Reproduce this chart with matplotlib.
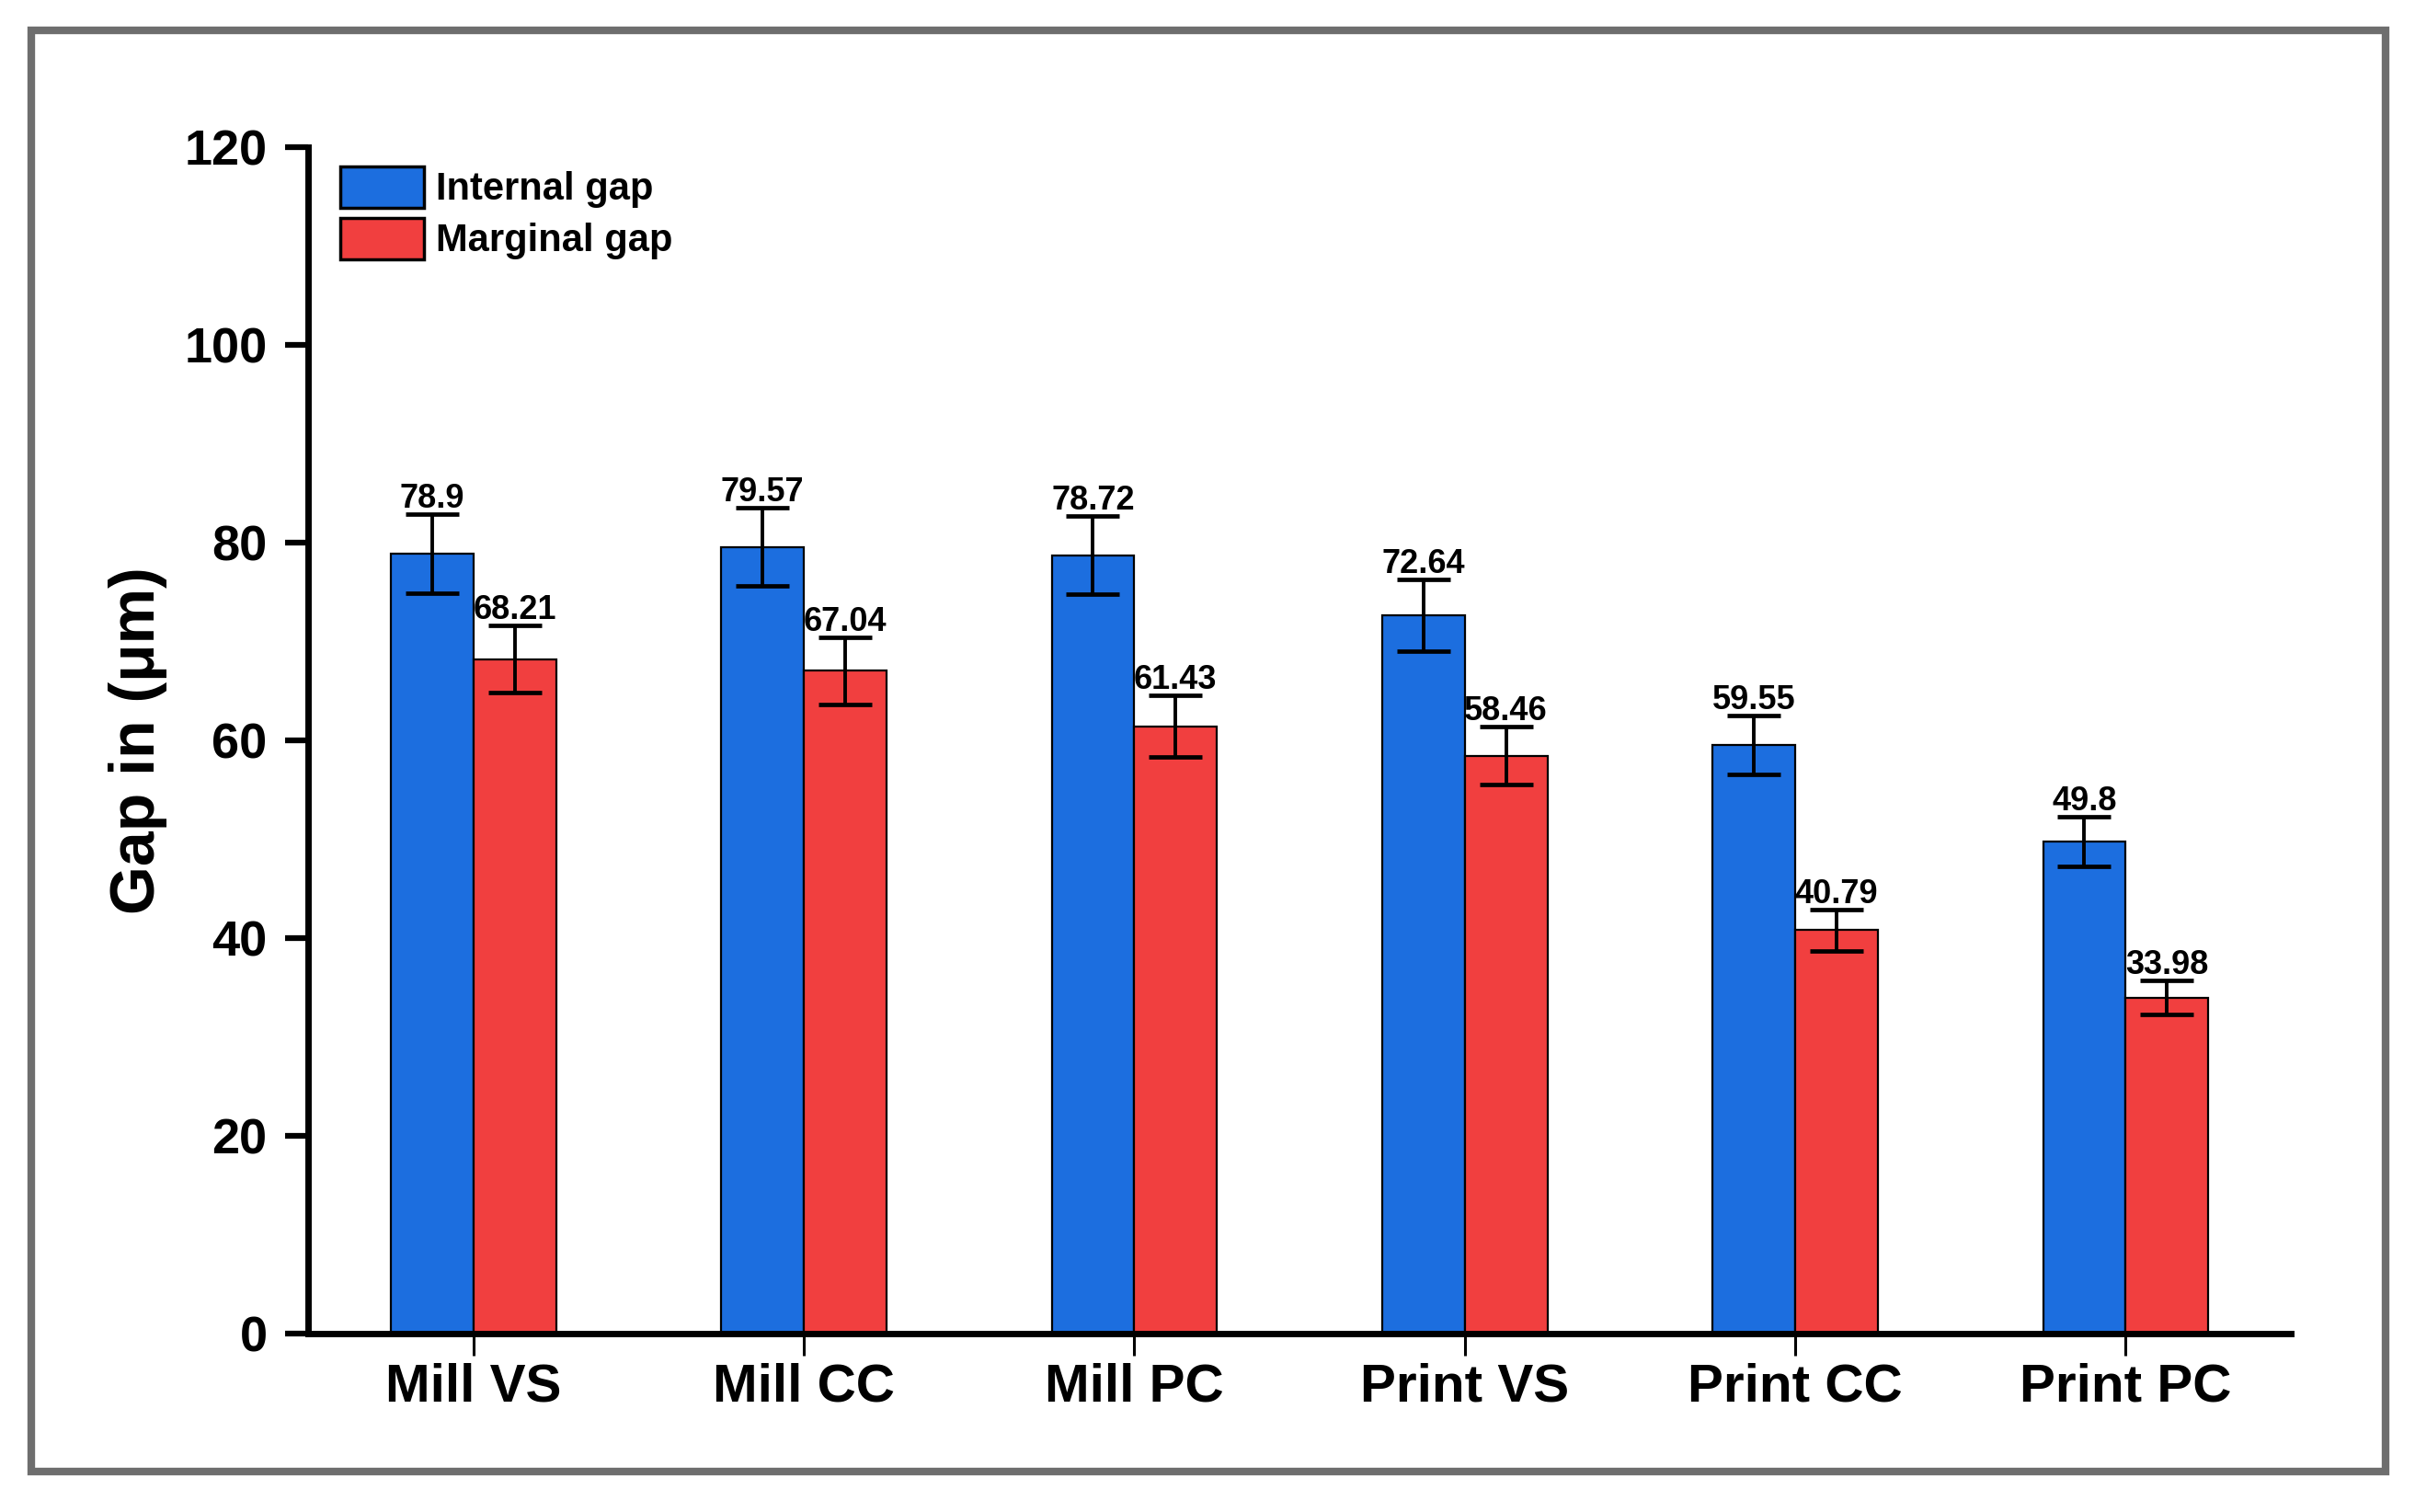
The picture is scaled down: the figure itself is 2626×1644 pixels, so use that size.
import matplotlib.pyplot as plt
import numpy as np
from matplotlib.patches import Rectangle

plt.rcParams['font.family'] = ['Liberation Sans', 'DejaVu Sans']
plt.rcParams['font.weight'] = 'bold'

# data
groups = ['Mill VS', 'Mill CC', 'Mill PC', 'Print VS', 'Print CC', 'Print PC']
internal = [78.9, 79.57, 78.72, 72.64, 59.55, 49.8]
marginal = [68.21, 67.04, 61.43, 58.46, 40.79, 33.98]
internal_err = [4.0, 3.95, 3.95, 3.6, 3.0, 2.5]
marginal_err = [3.4, 3.4, 3.1, 2.9, 2.1, 1.7]

blue = '#1C6EDF'
red = '#F13F3F'

fig = plt.figure(figsize=(26.26, 16.44), dpi=100)
ax = fig.add_axes([0.1276, 0.118, 0.821, 0.7847])

x = np.arange(len(groups))
w = 0.25
err_kw = dict(elinewidth=2.8, capsize=21, capthick=3.4, ecolor='black')
b1 = ax.bar(x - w / 2, internal, w, yerr=internal_err, color=blue,
            edgecolor='black', linewidth=1.6, label='Internal gap', error_kw=err_kw)
b2 = ax.bar(x + w / 2, marginal, w, yerr=marginal_err, color=red,
            edgecolor='black', linewidth=1.6, label='Marginal gap', error_kw=err_kw)

# value labels above error bars
for xs, vals, errs in [(x - w / 2, internal, internal_err), (x + w / 2, marginal, marginal_err)]:
    for xi, v, e in zip(xs, vals, errs):
        ax.annotate(f'{v:g}', (xi, v + e), xytext=(0, 5), textcoords='offset points',
                    ha='center', va='baseline', fontsize=26, fontweight='bold')

ax.set_xlim(-0.5, 5.5)
ax.set_ylim(0, 120)
ax.set_yticks(np.arange(0, 121, 20))
ax.set_xticks(x)
ax.set_xticklabels(groups)

ax.spines['top'].set_visible(False)
ax.spines['right'].set_visible(False)
ax.spines['left'].set_linewidth(5)
ax.spines['bottom'].set_linewidth(5)

ax.tick_params(axis='y', direction='out', length=18, width=4.5, labelsize=39, pad=14)
ax.tick_params(axis='x', direction='out', length=17, width=2.2, labelsize=42, pad=6)

ax.set_ylabel('Gap in (μm)', fontsize=49, fontweight='bold', labelpad=13)

leg = ax.legend(loc='upper left', bbox_to_anchor=(0.016, 0.984), frameon=False,
                fontsize=30, handlelength=2.2, handleheight=1.3, handletextpad=0.3,
                labelspacing=0.25, borderpad=0, borderaxespad=0)
for h in leg.legend_handles:
    h.set_linewidth(2.5)

# grey frame around the whole figure
fig.patches.append(Rectangle((0.0128, 0.027), 0.975, 0.953, transform=fig.transFigure,
                             fill=False, edgecolor='#6E6E6E', linewidth=6))

fig.savefig('out.png', dpi=100)
